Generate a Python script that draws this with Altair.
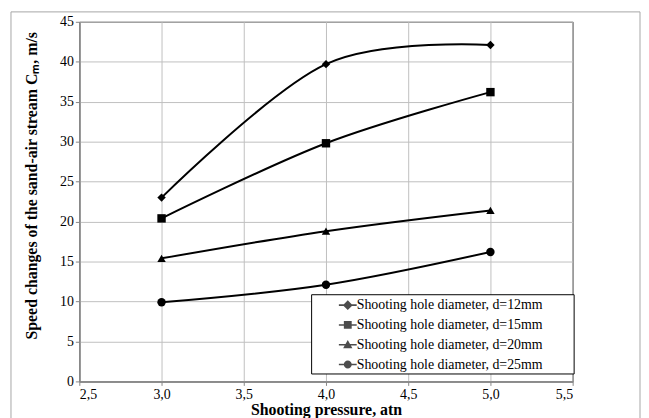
import altair as alt
import pandas as pd

pressure = [3.0, 4.0, 5.0]
series = [
    "Shooting hole diameter, d=12mm",
    "Shooting hole diameter, d=15mm",
    "Shooting hole diameter, d=20mm",
    "Shooting hole diameter, d=25mm",
]
speed_d12 = [23.0, 39.7, 42.1]
speed_d15 = [20.4, 29.8, 36.2]
speed_d20 = [15.4, 18.8, 21.4]
speed_d25 = [9.9, 12.1, 16.2]
x_ticks = [2.5, 3.0, 3.5, 4.0, 4.5, 5.0, 5.5]
y_ticks = [0, 5, 10, 15, 20, 25, 30, 35, 40, 45]

rows = []
for name, vals in zip(series, [speed_d12, speed_d15, speed_d20, speed_d25]):
    for p, v in zip(pressure, vals):
        rows.append({"pressure": p, "speed": v, "series": name})
df = pd.DataFrame(rows)

FONT = "Liberation Serif"

x_enc = alt.X(
    "pressure:Q",
    scale=alt.Scale(domain=[2.5, 5.5], nice=False, zero=False),
    axis=alt.Axis(
        values=x_ticks,
        labelExpr="replace(format(datum.value, '.1f'), '.', ',')",
        labelFont=FONT,
        title="Shooting pressure, atn",
        titleX=249,
        titleY=33,
        titleBaseline="alphabetic",
    ),
)
y_enc = alt.Y(
    "speed:Q",
    scale=alt.Scale(domain=[0, 45], nice=False),
    axis=alt.Axis(
        values=y_ticks,
        labelFont=FONT,
        title="Speed changes of the sand-air stream C\u2098, m/s",
        titleX=-48,
        titleY=165,
        titleAngle=270,
        titleAlign="center",
        titleBaseline="middle",
    ),
)

frame_df = pd.DataFrame({"k": [0]})
frame = alt.Chart(frame_df).mark_rect(
    fill=None, stroke="#a6a6a6", strokeWidth=1
).encode(
    x=alt.value(-69), x2=alt.value(566), y=alt.value(-10), y2=alt.value(402)
)

lines = alt.Chart(df).mark_line(
    interpolate="cardinal", color="black", strokeWidth=2
).encode(x=x_enc, y=y_enc, detail="series:N")

points = alt.Chart(df).mark_point(
    filled=True, color="black", opacity=1, size=72
).encode(
    x=x_enc,
    y=y_enc,
    shape=alt.Shape(
        "series:N",
        scale=alt.Scale(domain=series, range=["diamond", "square", "triangle-up", "circle"]),
        legend=None,
    ),
)

BAR = "M-1,-0.09H1V0.09H-1Z"
legend_paths = [
    BAR + "M0,-0.55L0.55,0L0,0.55L-0.55,0Z",
    BAR + "M-0.44,-0.44H0.44V0.44H-0.44Z",
    BAR + "M0,-0.52L0.52,0.4L-0.52,0.4Z",
    BAR + "M-0.45,0A0.45,0.45 0 1,1 0.45,0A0.45,0.45 0 1,1 -0.45,0Z",
]

legend_layer = alt.Chart(df).transform_filter("false").mark_point(
    filled=True, color="black"
).encode(
    x=x_enc,
    y=y_enc,
    shape=alt.Shape(
        "series:N",
        scale=alt.Scale(domain=series, range=legend_paths),
        legend=alt.Legend(
            orient="none",
            legendX=234,
            legendY=275,
            title="\u00a0",
            titleOrient="right",
            titlePadding=29,
            titleFontSize=13,
            symbolSize=324,
            symbolStrokeWidth=0,
            symbolFillColor="black",
            symbolOffset=26,
            labelFont=FONT,
            labelFontSize=14,
            labelColor="black",
            labelOffset=0,
            labelLimit=400,
            padding=2,
            rowPadding=4,
            strokeColor="black",
            fillColor="white",
        ),
    ),
)

chart = alt.layer(frame, lines, points, legend_layer).resolve_scale(
    shape="independent"
).properties(
    width=498,
    height=363,
    autosize=alt.AutoSizeParams(type="none"),
    padding={"left": 72, "top": 12, "right": 69, "bottom": 35},
).configure(
    font=FONT
).configure_view(
    stroke="black", strokeWidth=1
).configure_axis(
    domainColor="#868686",
    domainWidth=1.5,
    tickColor="#868686",
    tickSize=4,
    gridColor="#bfbfbf",
    gridWidth=1,
    labelFont=FONT,
    labelFontSize=14,
    labelColor="black",
    labelPadding=2,
    titleFont=FONT,
    titleFontSize=16,
    titleFontWeight="bold",
    titleColor="black",
)

chart.save("out.html", embed_options={"renderer": "svg", "actions": False})
